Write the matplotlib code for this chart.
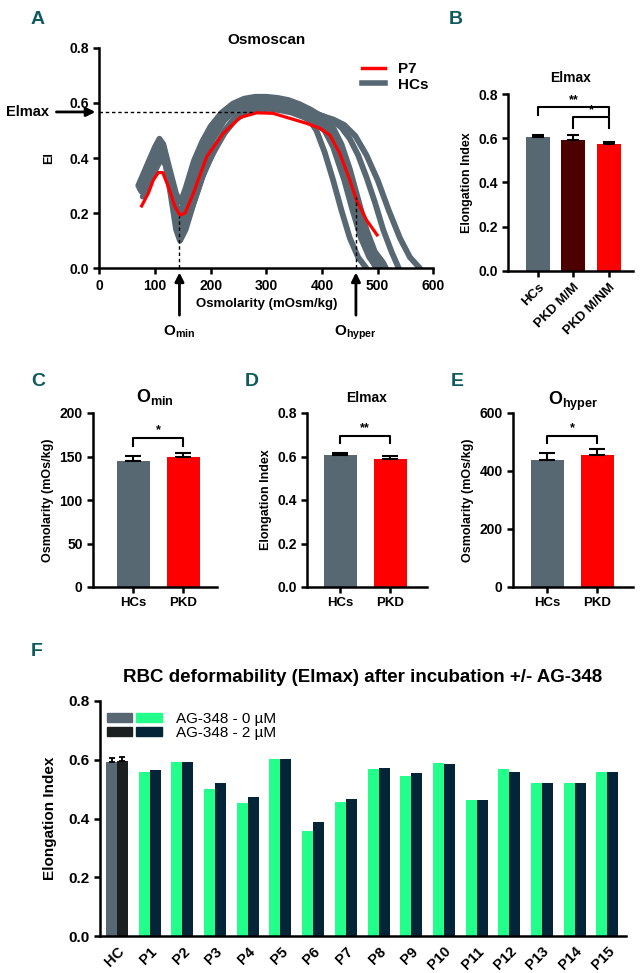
import matplotlib
matplotlib.use("Agg")
import matplotlib.pyplot as plt
from matplotlib.patches import Patch
from matplotlib.legend_handler import HandlerTuple

plt.rcParams['font.family'] = ['Liberation Sans', 'DejaVu Sans']
plt.rcParams['font.weight'] = 'bold'
plt.rcParams['axes.labelweight'] = 'bold'
plt.rcParams['axes.titleweight'] = 'bold'
plt.rcParams['mathtext.fontset'] = 'custom'
plt.rcParams['mathtext.bf'] = 'Liberation Sans:bold'
plt.rcParams['mathtext.rm'] = 'Liberation Sans:bold'
plt.rcParams['mathtext.it'] = 'Liberation Sans:bold'

# ---- panel A: osmoscan curves ----
p7_osm = [76, 88, 97, 106, 114, 124, 136, 145, 154, 169, 193, 223, 253, 283, 312,
          342, 372, 396, 414, 432, 450, 462, 480, 499]
p7_ei = [0.226, 0.272, 0.32, 0.347, 0.347, 0.296, 0.223, 0.193, 0.20, 0.272, 0.405,
         0.49, 0.547, 0.564, 0.562, 0.544, 0.526, 0.508, 0.483, 0.417, 0.32, 0.248,
         0.175, 0.121]

hc_osm = [
    [70, 85, 100, 108, 115, 125, 138, 146, 155, 170, 185, 200, 220, 240, 260, 280, 300,
     320, 340, 360, 380, 400, 415, 430, 445, 460, 475, 490, 497],
    [72, 88, 100, 110, 118, 128, 138, 145, 155, 170, 185, 200, 220, 240, 260, 280, 300,
     320, 340, 360, 380, 400, 415, 430, 445, 460, 475, 490, 502],
    [75, 90, 102, 110, 118, 128, 138, 145, 155, 170, 185, 200, 220, 240, 260, 280, 300,
     320, 340, 360, 380, 400, 420, 440, 455, 470, 485, 500],
    [78, 92, 104, 112, 120, 130, 140, 148, 158, 172, 188, 205, 225, 245, 265, 285, 305,
     325, 345, 365, 385, 405, 425, 440, 455, 470, 485, 500, 510],
    [74, 88, 100, 108, 116, 126, 136, 144, 154, 168, 184, 200, 220, 240, 260, 280, 300,
     320, 340, 360, 380, 400, 420, 435, 450, 465, 480, 495, 508],
    [80, 94, 106, 114, 122, 132, 142, 150, 160, 175, 190, 205, 225, 245, 265, 285, 305,
     325, 345, 365, 385, 405, 425, 440, 455, 470, 485, 500],
    [76, 90, 102, 110, 118, 128, 138, 146, 156, 170, 186, 202, 222, 242, 262, 282, 302,
     322, 342, 362, 382, 402, 420, 435, 450, 465, 480, 495, 510, 515],
    [73, 88, 100, 108, 116, 126, 136, 144, 154, 168, 184, 200, 220, 240, 260, 280, 300,
     320, 340, 360, 375, 390, 405, 420, 435, 450, 465, 480],
    [76, 94, 106, 112, 120, 130, 140, 147, 157, 172, 188, 204, 224, 244, 264, 284, 304,
     324, 344, 364, 384, 404, 420, 435, 450, 465, 480, 495, 510, 525, 538],
    [78, 95, 106, 112, 120, 130, 140, 147, 157, 172, 188, 204, 224, 244, 264, 284, 304,
     324, 344, 364, 384, 404, 420, 440, 460, 480, 500, 520, 540, 558, 576],
]
hc_ei = [
    [0.30, 0.37, 0.44, 0.47, 0.45, 0.37, 0.27, 0.24, 0.29, 0.39, 0.46, 0.515, 0.565, 0.597,
     0.615, 0.622, 0.622, 0.618, 0.61, 0.595, 0.575, 0.55, 0.50, 0.42, 0.32, 0.21, 0.11,
     0.03, 0.0],
    [0.29, 0.36, 0.41, 0.45, 0.41, 0.31, 0.18, 0.13, 0.18, 0.30, 0.40, 0.47, 0.54, 0.58,
     0.605, 0.612, 0.612, 0.608, 0.60, 0.585, 0.565, 0.535, 0.48, 0.40, 0.30, 0.19, 0.10,
     0.03, 0.0],
    [0.28, 0.35, 0.40, 0.43, 0.39, 0.27, 0.14, 0.10, 0.14, 0.24, 0.33, 0.40, 0.48, 0.535,
     0.57, 0.585, 0.59, 0.588, 0.583, 0.57, 0.55, 0.52, 0.44, 0.32, 0.21, 0.11, 0.04, 0.0],
    [0.26, 0.32, 0.37, 0.40, 0.37, 0.29, 0.20, 0.16, 0.19, 0.27, 0.35, 0.42, 0.49, 0.54,
     0.565, 0.576, 0.578, 0.573, 0.565, 0.55, 0.53, 0.50, 0.43, 0.34, 0.24, 0.14, 0.07,
     0.02, 0.0],
    [0.30, 0.38, 0.43, 0.46, 0.43, 0.34, 0.24, 0.20, 0.24, 0.34, 0.43, 0.49, 0.55, 0.59,
     0.61, 0.618, 0.618, 0.612, 0.60, 0.585, 0.565, 0.54, 0.49, 0.42, 0.32, 0.20, 0.10,
     0.03, 0.0],
    [0.27, 0.33, 0.38, 0.41, 0.38, 0.30, 0.19, 0.15, 0.18, 0.27, 0.36, 0.43, 0.50, 0.55,
     0.58, 0.593, 0.597, 0.595, 0.585, 0.57, 0.55, 0.52, 0.45, 0.36, 0.25, 0.14, 0.06,
     0.0],
    [0.28, 0.35, 0.41, 0.44, 0.41, 0.33, 0.22, 0.17, 0.21, 0.31, 0.41, 0.48, 0.545, 0.585,
     0.605, 0.61, 0.608, 0.603, 0.595, 0.58, 0.565, 0.545, 0.51, 0.45, 0.36, 0.25, 0.14,
     0.06, 0.02, 0.0],
    [0.29, 0.37, 0.42, 0.45, 0.42, 0.33, 0.20, 0.15, 0.20, 0.31, 0.41, 0.48, 0.545, 0.585,
     0.605, 0.61, 0.61, 0.603, 0.59, 0.57, 0.545, 0.50, 0.42, 0.32, 0.21, 0.11, 0.04, 0.0],
    [0.28, 0.36, 0.41, 0.43, 0.40, 0.31, 0.20, 0.17, 0.21, 0.31, 0.40, 0.47, 0.54, 0.58,
     0.60, 0.607, 0.605, 0.60, 0.59, 0.578, 0.565, 0.55, 0.535, 0.51, 0.47, 0.41, 0.33,
     0.24, 0.14, 0.06, 0.0],
    [0.28, 0.35, 0.40, 0.42, 0.39, 0.30, 0.19, 0.16, 0.20, 0.30, 0.40, 0.47, 0.535, 0.575,
     0.598, 0.605, 0.603, 0.598, 0.59, 0.577, 0.565, 0.55, 0.54, 0.52, 0.48, 0.41, 0.32,
     0.21, 0.11, 0.04, 0.0],
]
elmax_p7 = 0.567
omin_p7 = 144
ohyper_p7 = 461

# ---- panel B ----
b_groups = ['HCs', 'PKD M/M', 'PKD M/NM']
b_mean = [0.607, 0.593, 0.575]
b_err = [0.006, 0.020, 0.008]

# ---- panels C, D, E ----
cde_groups = ['HCs', 'PKD']
c_mean = [145, 149.4]
c_err = [5.6, 4.6]
d_mean = [0.607, 0.588]
d_err = [0.009, 0.014]
e_mean = [438, 455]
e_err = [24, 21]

# ---- panel F ----
f_labels = ['HC', 'P1', 'P2', 'P3', 'P4', 'P5', 'P6', 'P7', 'P8', 'P9', 'P10',
            'P11', 'P12', 'P13', 'P14', 'P15']
f_0uM = [0.594, 0.558, 0.593, 0.499, 0.453, 0.601, 0.358, 0.456, 0.567, 0.545,
         0.589, 0.464, 0.567, 0.521, 0.521, 0.560]
f_2uM = [0.596, 0.565, 0.593, 0.522, 0.474, 0.602, 0.388, 0.465, 0.572, 0.556,
         0.586, 0.464, 0.558, 0.521, 0.522, 0.560]
f_hc_err = [0.013, 0.012]

GREY = '#586873'
RED = '#ff0000'
MAROON = '#4d0000'
GREEN = '#22ff8a'
NAVY = '#032537'
BLACK = '#1b1f1f'
TEAL = '#0f5a5f'

W, H = 640, 973
fig = plt.figure(figsize=(6.4, 9.73), dpi=100)


def px(l, t, r, b):
    return [l / W, 1 - b / H, (r - l) / W, (b - t) / H]


def style(ax, size=10):
    for s in ['top', 'right']:
        ax.spines[s].set_visible(False)
    for s in ['left', 'bottom']:
        ax.spines[s].set_linewidth(1.8)
    ax.tick_params(width=1.8, length=4, labelsize=size)


def bracket(ax, x1, x2, y, h, txt, dy):
    ax.plot([x1, x1, x2, x2], [y - h, y, y, y - h], color='k', lw=1.5)
    ax.text((x1 + x2) / 2, y + dy, txt, ha='center', va='bottom', fontsize=9)


def panel_label(x, y, s):
    fig.text(x / W, 1 - y / H, s, ha='center', va='center', fontsize=14,
             color=TEAL, weight='bold',
             family=['Liberation Sans Narrow', 'Liberation Sans'])


# ===== A =====
ax = fig.add_axes(px(99.3, 47.7, 433.3, 268.3))
style(ax)
for xs, ys in zip(hc_osm, hc_ei):
    ax.plot(xs, ys, color=GREY, lw=4.2, solid_capstyle='round',
            solid_joinstyle='round')
ax.plot(p7_osm, p7_ei, color=RED, lw=2.3, solid_joinstyle='round')
ax.plot([0, 277], [elmax_p7, elmax_p7], color='k', lw=1, ls=(0, (2.5, 2)))
ax.plot([omin_p7, omin_p7], [0, 0.19], color='k', lw=1, ls=(0, (2.5, 2)))
ax.plot([ohyper_p7, ohyper_p7], [0, 0.26], color='k', lw=1, ls=(0, (2.5, 2)))
ax.set_xlim(0, 600)
ax.set_ylim(0, 0.8)
ax.set_xticks(range(0, 601, 100))
ax.set_yticks([0, 0.2, 0.4, 0.6, 0.8])
ax.set_yticklabels(['0.0', '0.2', '0.4', '0.6', '0.8'])
ax.set_title('Osmoscan', fontsize=11, pad=3)
ax.set_xlabel('Osmolarity (mOsm/kg)', fontsize=9.5, labelpad=4)
ax.set_ylabel('EI', fontsize=9, labelpad=10)
aprops = dict(arrowstyle='-|>', lw=2, color='k', mutation_scale=13)
ax.annotate('', xy=(-2, elmax_p7), xytext=(-82, elmax_p7), arrowprops=aprops,
            annotation_clip=False)
ax.text(-90, elmax_p7, 'Elmax', ha='right', va='center', fontsize=10.5)
ax.annotate('', xy=(omin_p7, -0.005), xytext=(omin_p7, -0.18), arrowprops=aprops,
            annotation_clip=False)
ax.annotate('', xy=(ohyper_p7, -0.005), xytext=(ohyper_p7, -0.18), arrowprops=aprops,
            annotation_clip=False)
ax.text(omin_p7, -0.2, r'$\mathbf{O_{min}}$', ha='center', va='top', fontsize=11)
ax.text(ohyper_p7, -0.2, r'$\mathbf{O_{hyper}}$', ha='center', va='top', fontsize=11)
h1, = ax.plot([], [], color=RED, lw=2.5)
h2, = ax.plot([], [], color=GREY, lw=4)
ax.legend([h1, h2], ['P7', 'HCs'], loc='upper left', bbox_to_anchor=(0.786, 0.935),
          frameon=False, fontsize=11, handlelength=1.5, handletextpad=0.85,
          labelspacing=0.1, borderpad=0, borderaxespad=0)
panel_label(38, 20, 'A')

# ===== B =====
ax = fig.add_axes(px(508, 94, 633, 270.7))
style(ax)
xb = range(len(b_groups))
ax.bar(xb, b_mean, width=0.68, color=[GREY, MAROON, RED])
ax.errorbar(xb, b_mean, yerr=[[0] * 3, b_err], fmt='none', ecolor='k',
            elinewidth=1.5, capsize=4.5, capthick=1.5)
bracket(ax, 0, 2, 0.741, 0.035, '**', 0.004)
bracket(ax, 1, 2, 0.696, 0.05, '*', 0.004)
ax.set_xlim(-0.845, 2.68)
ax.set_ylim(0, 0.8)
ax.set_yticks([0, 0.2, 0.4, 0.6, 0.8])
ax.set_yticklabels(['0.0', '0.2', '0.4', '0.6', '0.8'])
ax.set_xticks(list(xb))
ax.set_xticklabels(b_groups, rotation=45, ha='right', rotation_mode='anchor',
                   fontsize=9.5)
ax.set_title('Elmax', fontsize=10, pad=9)
ax.set_ylabel('Elongation Index', fontsize=9)
panel_label(456, 20, 'B')


# ===== C, D, E =====
def small_bar(rect, means, errs, ylim, yticks, yticklabels, title, ylabel,
              bra_y, bra_h, star, xlim, tsize, tpad):
    a = fig.add_axes(px(*rect))
    style(a)
    a.bar([0, 1], means, width=0.66, color=[GREY, RED])
    a.errorbar([0, 1], means, yerr=[[0, 0], errs], fmt='none', ecolor='k',
               elinewidth=1.5, capsize=5.5, capthick=1.5)
    bracket(a, 0, 1, bra_y, bra_h, star, (ylim[1] - ylim[0]) * 0.012)
    a.set_xlim(*xlim)
    a.set_ylim(*ylim)
    a.set_yticks(yticks)
    a.set_yticklabels(yticklabels)
    a.set_xticks([0, 1])
    a.set_xticklabels(cde_groups, fontsize=9.5)
    a.set_title(title, fontsize=tsize, pad=tpad)
    a.set_ylabel(ylabel, fontsize=9)
    return a


small_bar((93, 413, 217, 587), c_mean, c_err, (0, 200), [0, 50, 100, 150, 200],
          ['0', '50', '100', '150', '200'], r'$\mathbf{O_{min}}$',
          'Osmolarity (mOs/kg)', 171, 9, '*', (-0.8, 1.68), 13, 8)
small_bar((307, 413, 427, 587), d_mean, d_err, (0, 0.8), [0, 0.2, 0.4, 0.6, 0.8],
          ['0.0', '0.2', '0.4', '0.6', '0.8'], 'Elmax',
          'Elongation Index', 0.694, 0.034, '**', (-0.66, 1.74), 10, 8)
small_bar((513, 413, 633, 587), e_mean, e_err, (0, 600), [0, 200, 400, 600],
          ['0', '200', '400', '600'], r'$\mathbf{O_{hyper}}$',
          'Osmolarity (mOs/kg)', 521, 24, '*', (-0.68, 1.72), 13, 5)
panel_label(38, 381, 'C')
panel_label(252, 382, 'D')
panel_label(457, 382, 'E')

# ===== F =====
ax = fig.add_axes(px(100, 701, 626, 936))
style(ax, size=11)
n = len(f_labels)
xf = list(range(n))
bw = 0.336
c0 = [GREY] + [GREEN] * (n - 1)
c2 = [BLACK] + [NAVY] * (n - 1)
ax.bar([x - bw / 2 for x in xf], f_0uM, width=bw, color=c0)
ax.bar([x + bw / 2 for x in xf], f_2uM, width=bw, color=c2)
ax.errorbar([-bw / 2, bw / 2], [f_0uM[0], f_2uM[0]], yerr=[[0, 0], f_hc_err],
            fmt='none', ecolor='k', elinewidth=1.3, capsize=2.5, capthick=1.3)
ax.set_xlim(-0.52, 15.57)
ax.set_ylim(0, 0.8)
ax.set_yticks([0, 0.2, 0.4, 0.6, 0.8])
ax.set_yticklabels(['0.0', '0.2', '0.4', '0.6', '0.8'])
ax.set_xticks(xf)
ax.set_xticklabels(f_labels, rotation=45, ha='right', rotation_mode='anchor',
                   fontsize=10.5)
ax.tick_params(axis='x', length=0, pad=6)
ax.set_ylabel('Elongation Index', fontsize=11, labelpad=8)
ax.set_title('RBC deformability (Elmax) after incubation +/- AG-348',
             fontsize=13.5, pad=14)
hA = (Patch(color=GREY), Patch(color=GREEN))
hB = (Patch(color=BLACK), Patch(color=NAVY))
ax.legend([hA, hB], ['AG-348 - 0 µM', 'AG-348 - 2 µM'],
          handler_map={tuple: HandlerTuple(ndivide=None, pad=0.25)},
          loc='upper left', bbox_to_anchor=(0.013, 0.955), frameon=False,
          prop={'weight': 'normal', 'size': 11}, handlelength=3.6,
          handleheight=0.55, handletextpad=0.9, labelspacing=0.0,
          borderpad=0, borderaxespad=0)
panel_label(37, 652, 'F')

fig.savefig('out.png', dpi=100)
